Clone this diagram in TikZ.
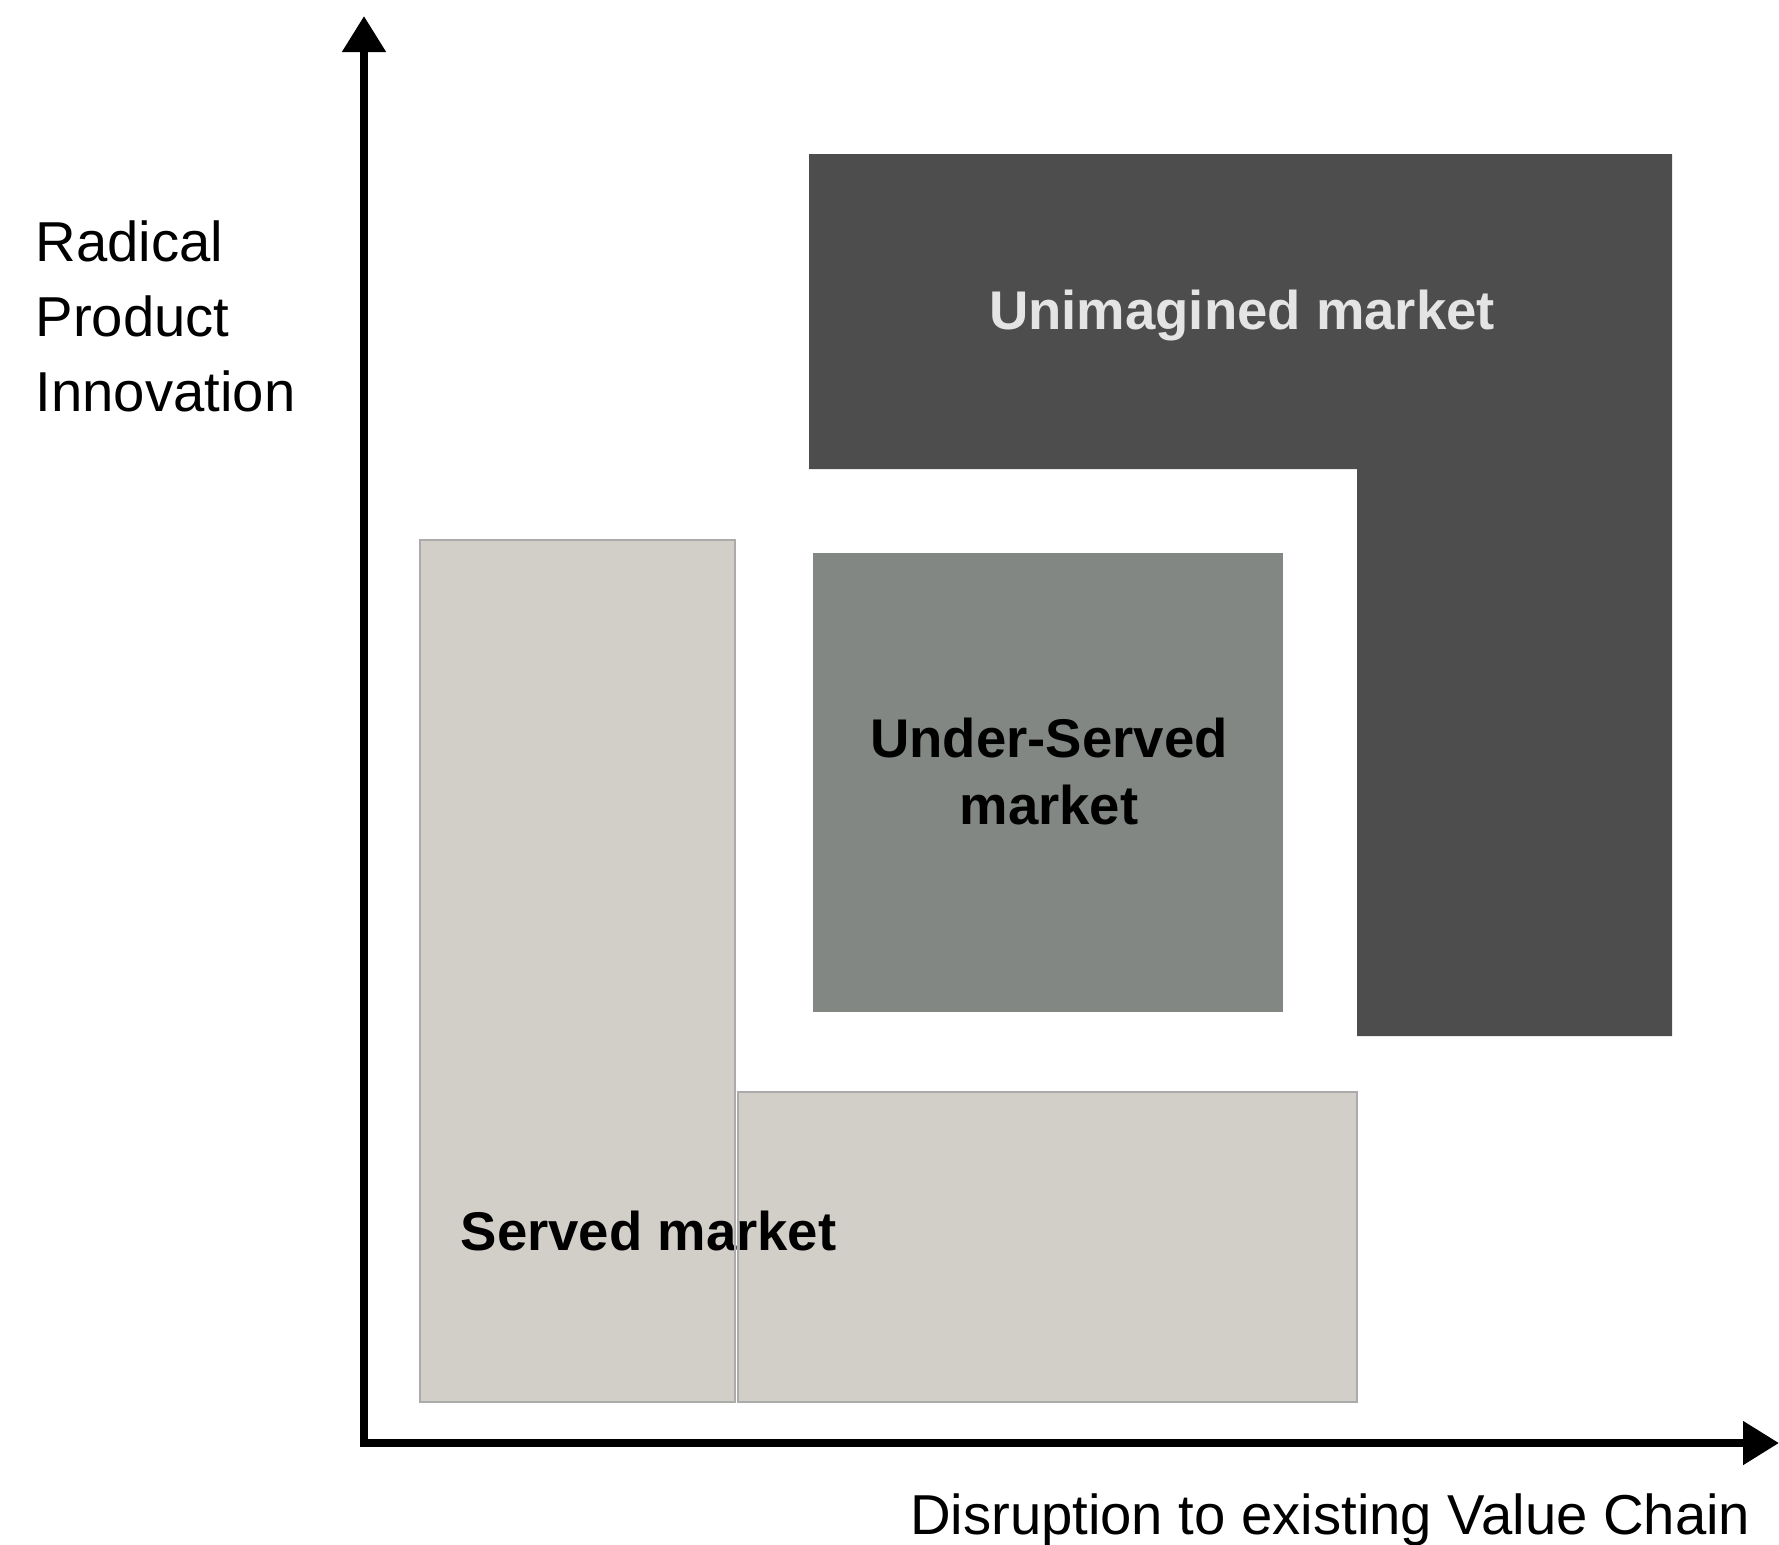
\documentclass[tikz,border=0pt]{standalone}
\usepackage{fontspec}
\setmainfont{Liberation Sans}
\usetikzlibrary{arrows.meta}

\definecolor{unimag}{HTML}{4D4D4D}
\definecolor{underserved}{HTML}{838784}
\definecolor{served}{HTML}{D2CFC8}
\definecolor{servedline}{HTML}{ABABAB}
\definecolor{lighttext}{HTML}{E4E4E4}

\tikzset{
  axis/.style={line width=2.3pt, line join=miter,
    {Triangle[length=0.36cm,width=0.42cm]}-{Triangle[length=0.36cm,width=0.42cm]}},
  axislabel/.style={inner sep=0pt, font=\fontsize{16}{19}\selectfont},
  marketlabel/.style={inner sep=0pt, font=\fontsize{15.5}{18}\selectfont\bfseries},
  servedfill/.style={fill=served},
  servededge/.style={draw=servedline, line width=0.5pt},
}

\begin{document}
\begin{tikzpicture}[x=0.01cm,y=-0.01cm]
  \useasboundingbox (0,0) rectangle (1779,1544);

  % unimagined market: L-shaped block
  \fill[unimag] (809,154) -- (1672,154) -- (1672,1036) -- (1357,1036)
                -- (1357,469) -- (809,469) -- cycle;

  % under-served market block
  \fill[underserved] (813,553) rectangle (1283,1012);

  % served market: two joined blocks (fills first, outlines over the label)
  \fill[servedfill] (420,540) rectangle (735,1402);
  \fill[servedfill] (738,1092) rectangle (1357,1402);

  % labels inside blocks
  \node[marketlabel, text=lighttext, anchor=base] (unimaginedtxt) at (1242,329) {Unimagined market};
  \node[marketlabel, anchor=base] (undertxt1) at (1049,757) {Under-Served};
  \node[marketlabel, anchor=base] (undertxt2) at (1049,824) {market};
  \node[marketlabel, anchor=base west] (servedtxt) at (460,1250) {Served market};

  \draw[servededge] (420,540) rectangle (735,1402);
  \draw[servededge] (738,1092) rectangle (1357,1402);

  % axes
  \coordinate (origin) at (364,1443);
  \coordinate (ytip) at (364,16);
  \coordinate (xtip) at (1779,1443);
  \draw[axis] (ytip) -- (origin) -- (xtip);

  % axis titles
  \node[axislabel, anchor=base west] (ylab1) at (35,261) {Radical};
  \node[axislabel, anchor=base west] (ylab2) at (35,336) {Product};
  \node[axislabel, anchor=base west] (ylab3) at (35,411) {Innovation};
  \node[axislabel, anchor=base east] (xlab) at (1751,1534) {Disruption to existing Value Chain};
\end{tikzpicture}
\end{document}
